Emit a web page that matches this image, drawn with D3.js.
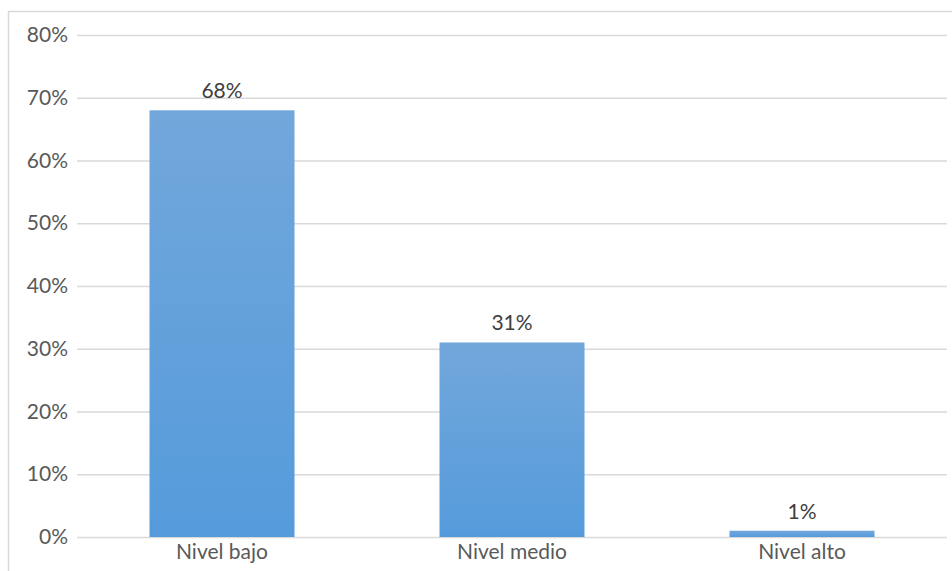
<!DOCTYPE html>
<html><head><meta charset="utf-8">
<script src="https://cdn.jsdelivr.net/npm/d3@7"></script>
<style>html,body{margin:0;padding:0;background:#fff;overflow:hidden}svg{display:block}</style>
</head><body><svg id="c" width="952" height="571"></svg>
<script>
const categories = ["Nivel bajo", "Nivel medio", "Nivel alto"];
const values = [68, 31, 1];
const yTicks = [0, 10, 20, 30, 40, 50, 60, 70, 80];

const svg = d3.select("#c");
const W = 952, H = 571;
const m = {left: 77, right: 5, top: 35, bottom: 34};
const x = d3.scaleBand().domain(categories).range([m.left, W - m.right]).paddingInner(0.5).paddingOuter(0.25);
const y = d3.scaleLinear().domain([0, 80]).range([H - m.bottom, m.top]);
const font = "Lato, 'Open Sans', sans-serif";
const fs = "21px";

svg.append("rect").attr("x", 8.5).attr("y", 11.5).attr("width", 1000).attr("height", 700)
  .attr("fill", "#fff").attr("stroke", "#d9d9d9").attr("stroke-width", 1.5);

const defs = svg.append("defs");
const g = defs.append("linearGradient").attr("id", "bg").attr("x1", 0).attr("y1", 0).attr("x2", 0).attr("y2", 1);
g.append("stop").attr("offset", "0%").attr("stop-color", "#72a7db");
g.append("stop").attr("offset", "100%").attr("stop-color", "#559bdb");

const yAxis = d3.axisLeft(y).tickValues(yTicks).tickSize(-(W - m.right - m.left)).tickFormat(d => d + "%").tickPadding(9);
const ga = svg.append("g").attr("transform", `translate(${m.left},0)`).call(yAxis);
ga.select(".domain").remove();
ga.selectAll(".tick line").attr("stroke", "#d9d9d9").attr("stroke-width", 1.5);
ga.selectAll(".tick text").attr("fill", "#595959").style("font-family", font).style("font-size", fs);

svg.selectAll("rect.bar").data(values).enter().append("rect").attr("class", "bar")
  .attr("x", (d, i) => x(categories[i])).attr("width", x.bandwidth())
  .attr("y", d => y(d)).attr("height", d => y(0) - y(d)).attr("fill", "url(#bg)");

svg.selectAll("text.lbl").data(values).enter().append("text").attr("class", "lbl")
  .attr("x", (d, i) => x(categories[i]) + x.bandwidth() / 2).attr("y", d => y(d) - 12)
  .attr("text-anchor", "middle").attr("fill", "#404040").style("font-family", font).style("font-size", fs)
  .text(d => d + "%");

const xAxis = d3.axisBottom(x).tickSize(0).tickPadding(7);
const gx = svg.append("g").attr("transform", `translate(0,${y(0)})`).call(xAxis);
gx.select(".domain").remove();
gx.selectAll(".tick text").attr("fill", "#595959").style("font-family", font).style("font-size", fs);
</script></body></html>
